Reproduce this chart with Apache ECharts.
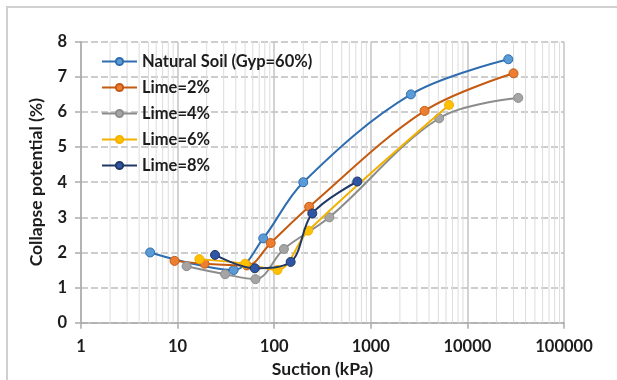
<!DOCTYPE html>
<html><head><meta charset="utf-8">
<script src="https://cdn.jsdelivr.net/npm/echarts@6/dist/echarts.min.js"></script>
<style>html,body{margin:0;padding:0;background:#fff}#c{width:617px;height:380px}</style>
</head><body><div id="c"></div>
<script>
const seriesNames = ['Natural Soil (Gyp=60%)','Lime=2%','Lime=4%','Lime=6%','Lime=8%'];
const natural = [[5.2,2.0],[38,1.5],[77,2.4],[200,4.0],[2600,6.5],[26500,7.5]];
const lime2 = [[9.3,1.76],[19,1.68],[52,1.63],[92,2.27],[230,3.3],[3600,6.03],[30000,7.1]];
const lime4 = [[12.4,1.61],[31,1.38],[64,1.24],[126,2.1],[372,3.0],[5100,5.82],[33600,6.4]];
const lime6 = [[16.8,1.81],[50,1.68],[108,1.5],[225,2.62],[6450,6.2]];
const lime8 = [[24.4,1.93],[63,1.55],[148,1.73],[248,3.11],[725,4.02]];
const yTicks = [0,1,2,3,4,5,6,7,8];
const xTicks = [1,10,100,1000,10000,100000];
const lineColors = ['#2E6DB0','#C55A11','#8C8C8C','#F2B100','#1F3864'];
const markColors = ['#5B9BD5','#ED7D31','#A5A5A5','#FFC000','#2F55A4'];
const allData = [natural, lime2, lime4, lime6, lime8];

const minor = [];
for (let d = 0; d < xTicks.length - 1; d++) {
  for (let m = 2; m <= 9; m++) minor.push([m * xTicks[d]]);
}
const font = 'Lato, "Open Sans", sans-serif';
const txt = '#1c1c1c';
const chart = echarts.init(document.getElementById('c'));
const series = allData.map((d, i) => ({
  name: seriesNames[i], type: 'line', data: d, smooth: 0.35,
  symbol: 'circle', symbolSize: 9, z: 3 + i,
  lineStyle: {color: lineColors[i], width: 2},
  itemStyle: {color: markColors[i], borderColor: lineColors[i], borderWidth: 1}
}));
series.unshift({
  type: 'custom', z: 1, silent: true, data: minor,
  renderItem: (params, api) => {
    const x = api.value(0);
    const p1 = api.coord([x, yTicks[0]]);
    const p2 = api.coord([x, yTicks[yTicks.length-1]]);
    return {type: 'line', shape: {x1: p1[0], y1: p1[1], x2: p2[0], y2: p2[1]},
      style: {stroke: '#dcdcdc', lineWidth: 1}};
  }
});
chart.setOption({
  animation: false,
  backgroundColor: '#fff',
  graphic: [{type: 'rect', shape: {x: 7, y: 7, width: 640, height: 400},
    style: {fill: 'none', stroke: '#d0d0d0', lineWidth: 2}}],
  grid: {left: 81, right: 53, top: 41.7, bottom: 57.3, outerBoundsMode: 'none', containLabel: false},
  legend: {
    data: seriesNames, orient: 'vertical', left: 101, top: 53, padding: 0,
    itemWidth: 35, itemHeight: 9, itemGap: 9,
    textStyle: {fontFamily: font, fontWeight: 'bold', fontSize: 16.5, color: txt}
  },
  xAxis: {
    type: 'log', logBase: 10, min: 1, max: 100000,
    name: 'Suction (kPa)', nameLocation: 'middle', nameGap: 38,
    nameTextStyle: {fontFamily: font, fontWeight: 'bold', fontSize: 17.5, color: txt},
    axisLine: {lineStyle: {color: '#aaaaaa', width: 1.5}},
    axisTick: {show: true, length: 6, lineStyle: {color: '#aaaaaa', width: 1.5}},
    axisLabel: {fontFamily: font, fontWeight: 'bold', fontSize: 16.5, color: txt, margin: 15,
      formatter: v => String(Math.round(v))},
    splitLine: {show: true, lineStyle: {color: '#c4c4c4', width: 1.5}}
  },
  yAxis: {
    type: 'value', min: 0, max: 8, interval: 1,
    name: 'Collapse potential (%)', nameLocation: 'middle', nameGap: 36,
    nameTextStyle: {fontFamily: font, fontWeight: 'bold', fontSize: 17.5, color: txt},
    axisLine: {show: true, lineStyle: {color: '#aaaaaa', width: 1.5}},
    axisTick: {show: true, length: 6, lineStyle: {color: '#aaaaaa', width: 1.5}},
    axisLabel: {fontFamily: font, fontWeight: 'bold', fontSize: 16.5, color: txt, margin: 14},
    splitLine: {show: true, lineStyle: {color: '#bdbdbd', width: 1.5, type: [7, 3]}}
  },
  series: series
});
</script></body></html>
